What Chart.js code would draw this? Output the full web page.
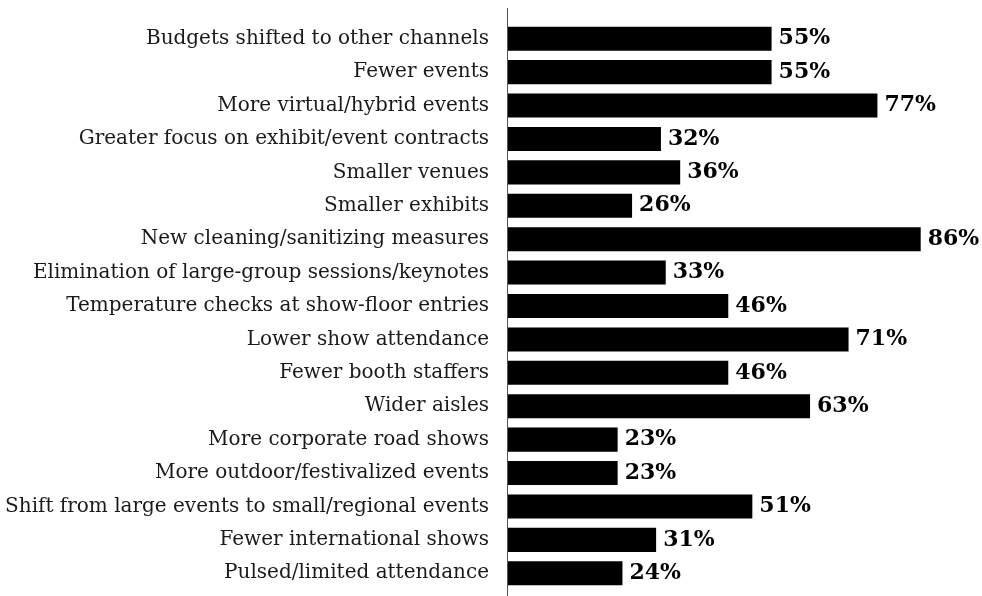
<!DOCTYPE html>
<html>
<head>
<meta charset="utf-8">
<script src="https://cdn.jsdelivr.net/npm/chart.js@4/dist/chart.umd.min.js"></script>
<style>
  html, body { margin: 0; padding: 0; background: #fff; }
  #myChart { display: block; }
</style>
</head>
<body>
<canvas id="myChart" width="982" height="596"></canvas>
<script>
// survey answers, top to bottom
const categories = [
  'Budgets shifted to other channels',
  'Fewer events',
  'More virtual/hybrid events',
  'Greater focus on exhibit/event contracts',
  'Smaller venues',
  'Smaller exhibits',
  'New cleaning/sanitizing measures',
  'Elimination of large-group sessions/keynotes',
  'Temperature checks at show-floor entries',
  'Lower show attendance',
  'Fewer booth staffers',
  'Wider aisles',
  'More corporate road shows',
  'More outdoor/festivalized events',
  'Shift from large events to small/regional events',
  'Fewer international shows',
  'Pulsed/limited attendance'
];
const percentages = [55, 55, 77, 32, 36, 26, 86, 33, 46, 71, 46, 63, 23, 23, 51, 31, 24];

const valueFont = 'bold 22px "DejaVu Serif", serif';

// vertical baseline running the full height
const axisLine = {
  id: 'axisLine',
  afterDatasetsDraw(chart) {
    const c = chart.ctx;
    const x = Math.round(chart.scales.x.getPixelForValue(0)) + 0.5;
    c.save();
    c.strokeStyle = '#555';
    c.lineWidth = 1;
    c.beginPath();
    c.moveTo(x, 8);
    c.lineTo(x, chart.height);
    c.stroke();
    c.restore();
  }
};

// percentage at the end of each bar
const valueLabels = {
  id: 'valueLabels',
  afterDatasetsDraw(chart) {
    const c = chart.ctx;
    const meta = chart.getDatasetMeta(0);
    c.save();
    c.font = valueFont;
    c.fillStyle = '#000';
    c.textAlign = 'left';
    c.textBaseline = 'middle';
    meta.data.forEach((bar, i) => {
      c.fillText(percentages[i] + '%', bar.x + 7, bar.y);
    });
    c.restore();
  }
};

const ctx = document.getElementById('myChart');
new Chart(ctx, {
  type: 'bar',
  data: {
    labels: categories,
    datasets: [{
      data: percentages,
      backgroundColor: '#000',
      borderWidth: 0,
      barPercentage: 0.72,
      categoryPercentage: 1
    }]
  },
  options: {
    indexAxis: 'y',
    responsive: false,
    animation: false,
    layout: { padding: { top: 22, bottom: 6, right: 18 } },
    plugins: {
      legend: { display: false },
      tooltip: { enabled: false }
    },
    scales: {
      x: {
        display: false,
        min: 0,
        max: 95
      },
      y: {
        grid: { display: false },
        border: { display: false },
        afterFit(scale) {
          scale.width = 507;
          scale.paddingTop = 0;
          scale.paddingBottom = 0;
        },
        ticks: {
          padding: 10,
          color: '#1a1a1a',
          font: { family: '"DejaVu Serif", serif', size: 20 }
        }
      }
    }
  },
  plugins: [axisLine, valueLabels]
});
</script>
</body>
</html>
